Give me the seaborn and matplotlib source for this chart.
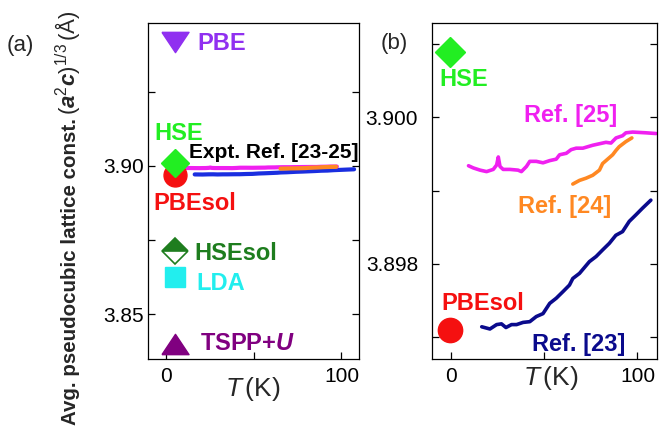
import numpy as np
import pandas as pd
import matplotlib
matplotlib.use("Agg")
import matplotlib.pyplot as plt
import seaborn as sns

# ---------------------------------------------
# Data
# ---------------------------------------------

# Ref. [25]
ref25_T = [9.3, 11.9, 15.5, 19.0, 22.6, 24.4, 25.3, 26.2, 27.9, 31.5, 35.9,
           37.7, 40.4, 42.2, 45.7, 49.3, 52.9, 56.4, 58.2, 61.8, 64.4, 67.1,
           70.7, 76.0, 81.3, 83.1, 85.8, 88.5, 92.0, 93.8, 97.4, 104.5, 110.0]
ref25_a = [3.89934, 3.89931, 3.89928, 3.89926, 3.89929, 3.89935, 3.89946,
           3.89933, 3.89929, 3.89929, 3.89928, 3.89926, 3.89933, 3.89940,
           3.89940, 3.89938, 3.89941, 3.89943, 3.89949, 3.89951, 3.89956,
           3.89958, 3.89958, 3.89962, 3.89965, 3.89966, 3.89965, 3.89972,
           3.89975, 3.89979, 3.89980, 3.89979, 3.89978]

# Ref. [24]
ref24_T = [65.3, 68.9, 72.4, 76.0, 79.6, 81.3, 84.0, 86.7, 88.5, 90.2, 93.8, 97.0]
ref24_a = [3.89909, 3.89914, 3.89917, 3.89921, 3.89928, 3.89937, 3.89943,
           3.89949, 3.89955, 3.89960, 3.89967, 3.89972]

# Ref. [23]
ref23_T = [16.4, 20.8, 24.4, 27.0, 29.4, 32.4, 35.1, 38.6, 42.2, 45.7, 49.3,
           52.9, 56.4, 60.0, 63.5, 65.3, 68.9, 74.2, 77.8, 81.3, 84.9, 88.4,
           92.0, 95.6, 99.2, 102.7, 107.2]
ref23_a = [3.89714, 3.89711, 3.89717, 3.89718, 3.89713, 3.89717, 3.89717,
           3.89720, 3.89721, 3.89728, 3.89732, 3.89746, 3.89753, 3.89762,
           3.89771, 3.89780, 3.89787, 3.89803, 3.89810, 3.89819, 3.89828,
           3.89839, 3.89844, 3.89858, 3.89867, 3.89876, 3.89887]

# calculated values (T = 0 K)
methods = ["PBE", "HSE", "PBEsol", "HSEsol", "LDA", "TSPP+U"]
calc_a = [3.9418, 3.9009, 3.8971, 3.8713, 3.8626, 3.8400]
T_calc_a = 5.0      # plotted position in panel (a)
T_calc_b = -0.8     # plotted position in panel (b)

# ---------------------------------------------
# Style
# ---------------------------------------------

sns.set_theme(style="ticks")
plt.rcParams["font.family"] = ["Liberation Sans", "DejaVu Sans"]
plt.rcParams["mathtext.fontset"] = "custom"
plt.rcParams["mathtext.rm"] = "Liberation Sans"
plt.rcParams["mathtext.it"] = "Liberation Sans:italic"
plt.rcParams["mathtext.bf"] = "Liberation Sans:bold"
plt.rcParams["mathtext.bfit"] = "Liberation Sans:italic:bold"

col = {
    "PBE": "#9030F0",
    "HSE": "#22EE22",
    "PBEsol": "#F51010",
    "HSEsol": "#1E7D1E",
    "LDA": "#22EEEE",
    "TSPP+U": "#800080",
    "r25": "#F020F0",
    "r24": "#FF8822",
    "r23": "#0A0A8C",
    "r23a": "#1A2EE0",
}

W, H = 661, 428
fig = plt.figure(figsize=(W / 100, H / 100), dpi=100)

def px_axes(l, t, r, b):
    return fig.add_axes([l / W, 1 - b / H, (r - l) / W, (b - t) / H])

def ftext(x, y, s, **kw):
    return fig.text(x / W, 1 - y / H, s, **kw)

ax_a = px_axes(148, 23, 359, 359)
ax_b = px_axes(432, 23, 657, 359)

tri_down = [(-1, 0.75), (1, 0.75), (0, -0.75), (-1, 0.75)]
tri_up = [(-1, -0.75), (1, -0.75), (0, 0.75), (-1, -0.75)]

# ---------------------------------------------
# (a)
# ---------------------------------------------

r25 = pd.DataFrame({"T": ref25_T, "a": ref25_a})
r24 = pd.DataFrame({"T": ref24_T, "a": ref24_a})
r23 = pd.DataFrame({"T": ref23_T, "a": ref23_a})

sns.lineplot(data=r23, x="T", y="a", ax=ax_a, color=col["r23a"], linewidth=3.0,
             estimator=None, sort=False)
sns.lineplot(data=r25[r25["T"] <= 98], x="T", y="a", ax=ax_a, color=col["r25"],
             linewidth=3.0, estimator=None, sort=False)
sns.lineplot(data=r24, x="T", y="a", ax=ax_a, color=col["r24"], linewidth=3.0,
             estimator=None, sort=False)

ax_a.plot(T_calc_a, calc_a[0], marker=tri_down, ms=19.5, color=col["PBE"], ls="none")
ax_a.plot(T_calc_a, calc_a[2], marker="o", ms=16.5, color=col["PBEsol"], ls="none")
ax_a.plot(T_calc_a, calc_a[1], marker="D", ms=14, color=col["HSE"], ls="none")
ax_a.plot(T_calc_a, calc_a[3], marker="D", ms=13, color=col["HSEsol"],
          fillstyle="top", markerfacecoloralt="white", markeredgewidth=1.2, ls="none")
ax_a.plot(T_calc_a, calc_a[4], marker="s", ms=14.5, color=col["LDA"], ls="none")
ax_a.plot(T_calc_a, calc_a[5], marker=tri_up, ms=19.5, color=col["TSPP+U"], ls="none")

ax_a.set_xlim(-10.2, 110)
ax_a.set_ylim(3.8349, 3.9482)
ax_a.set_xticks([0, 100])
ax_a.set_xticks([50], minor=True)
ax_a.set_yticks([3.85, 3.90])
ax_a.set_yticklabels(["3.85", "3.90"])
ax_a.set_yticks([3.875, 3.925], minor=True)
ax_a.tick_params(axis="y", which="both", pad=3)

# ---------------------------------------------
# (b)
# ---------------------------------------------

sns.lineplot(data=r25, x="T", y="a", ax=ax_b, color=col["r25"], linewidth=2.6,
             estimator=None, sort=False)
sns.lineplot(data=r24, x="T", y="a", ax=ax_b, color=col["r24"], linewidth=2.6,
             estimator=None, sort=False)
sns.lineplot(data=r23, x="T", y="a", ax=ax_b, color=col["r23"], linewidth=2.6,
             estimator=None, sort=False)

ax_b.plot(T_calc_b, calc_a[1], marker="D", ms=15.5, color=col["HSE"], ls="none")
ax_b.plot(T_calc_b, calc_a[2], marker="o", ms=17.5, color=col["PBEsol"], ls="none")

ax_b.set_xlim(-10.3, 110.5)
ax_b.set_ylim(3.89670, 3.90129)
ax_b.set_xticks([0, 100])
ax_b.set_xticks([50], minor=True)
ax_b.set_yticks([3.898, 3.900])
ax_b.set_yticklabels(["3.898", "3.900"])
ax_b.set_yticks([3.897, 3.899, 3.901], minor=True)
ax_b.tick_params(axis="y", which="both", pad=10)

for ax in (ax_a, ax_b):
    ax.set_xlabel("")
    ax.set_ylabel("")
    ax.tick_params(which="both", direction="in", length=5, width=0.9,
                   right=True, top=False, labelsize=15, colors="black")
    ax.tick_params(axis="x", which="both", pad=6)
    for sp in ax.spines.values():
        sp.set_linewidth(0.9)
        sp.set_color("black")

# ---------------------------------------------
# Texts
# ---------------------------------------------

bold = dict(fontsize=17, fontweight="bold", ha="left", va="center")

ftext(197, 43, "PBE", color=col["PBE"], **bold)
ftext(154, 133, "HSE", color=col["HSE"], **bold)
ftext(189, 153, "Expt. Ref. [23-25]", color="black", fontsize=15,
      fontweight="bold", ha="left", va="center")
ftext(153, 203, "PBEsol", color=col["PBEsol"], **bold)
ftext(194, 254, "HSEsol", color=col["HSEsol"], **bold)
ftext(196, 283, "LDA", color=col["LDA"], **bold)
ftext(200, 343, r"TSPP+$\mathbfit{U}$", color=col["TSPP+U"], **bold)

ftext(439, 80, "HSE", color=col["HSE"], **bold)
ftext(524, 116, "Ref. [25]", color=col["r25"], **bold)
ftext(518, 206, "Ref. [24]", color=col["r24"], **bold)
ftext(441, 303, "PBEsol", color=col["PBEsol"], **bold)
ftext(532, 344, "Ref. [23]", color=col["r23"], **bold)

ftext(20, 45, "(a)", fontsize=16, ha="center", va="center")
ftext(394, 43, "(b)", fontsize=16, ha="center", va="center")

ftext(253, 389, r"$\mathit{T}\,$(K)", fontsize=19, ha="center", va="center")
ftext(551, 378, r"$\mathit{T}\,$(K)", fontsize=19, ha="center", va="center")

# y label: plain part + larger math part, joined end to end
ylab1 = ftext(71, 425, "Avg. pseudocubic lattice const.", fontsize=14.8,
              fontweight="bold", rotation=90, ha="center", va="bottom")
fig.canvas.draw()
top_px = ylab1.get_window_extent(fig.canvas.get_renderer()).y1
fig.text(68 / W, (top_px + 3) / H,
         r"$(\mathbfit{a}^{2}\mathbfit{c})^{1/3}\,$(Å)", fontsize=16,
         rotation=90, ha="center", va="bottom")

fig.savefig("out.png", dpi=100)
